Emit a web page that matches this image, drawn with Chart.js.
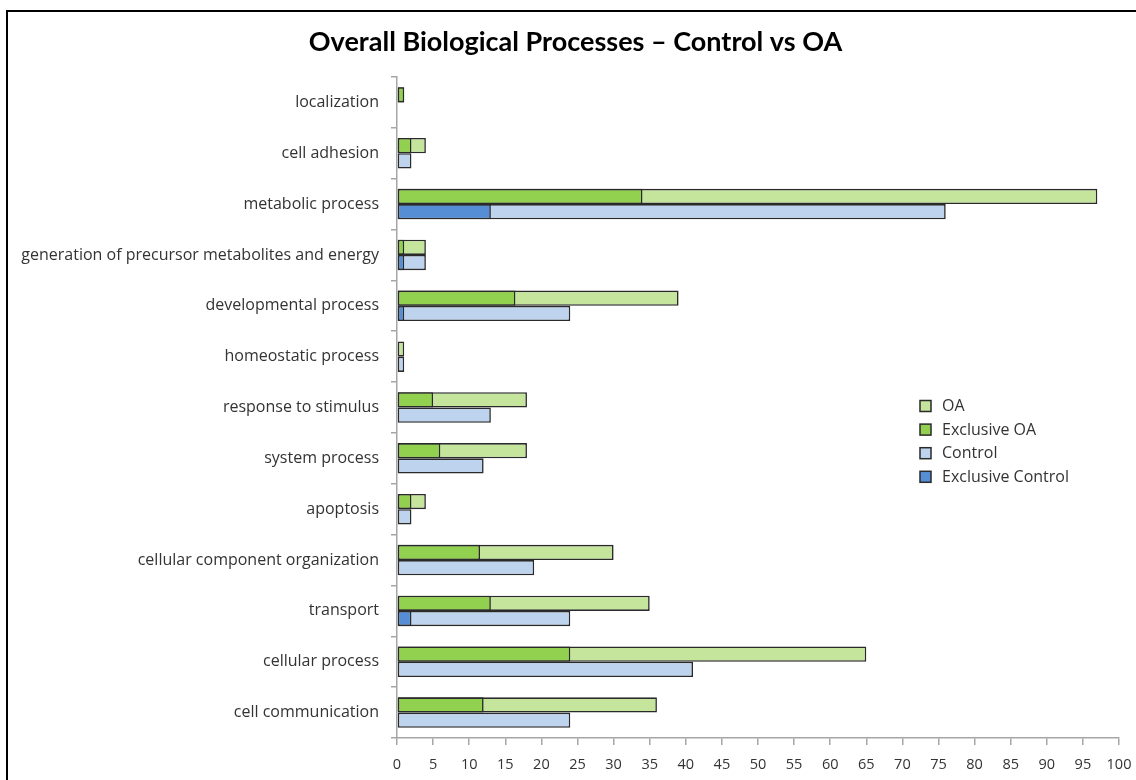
<!DOCTYPE html>
<html>
<head>
<meta charset="utf-8">
<script src="https://cdn.jsdelivr.net/npm/chart.js@4/dist/chart.umd.min.js"></script>
<style>
  html, body { margin: 0; padding: 0; background: #fff; }
  #wrap { position: relative; width: 1136px; height: 780px; overflow: hidden; }
  #frame { position: absolute; left: 6px; top: 10px; width: 1200px; height: 800px;
           border-left: 2px solid #000; border-top: 2px solid #000; }
  canvas { position: absolute; left: 0; top: 0; }
</style>
</head>
<body>
<div id="wrap">
  <div id="frame"></div>
  <canvas id="c" width="1136" height="780"></canvas>
</div>
<script>
const categories = [
  "localization",
  "cell adhesion",
  "metabolic process",
  "generation of precursor metabolites and energy",
  "developmental process",
  "homeostatic process",
  "response to stimulus",
  "system process",
  "apoptosis",
  "cellular component organization",
  "transport",
  "cellular process",
  "cell communication"
];
const oaValues               = [1, 4, 97, 4, 39, 1, 18, 18, 4, 30, 35, 65, 36];
const exclusiveOaValues      = [1, 2, 34, 1, 16.4, 0, 5, 6, 2, 11.5, 13, 24, 12];
const controlValues          = [0, 2, 76, 4, 24, 1, 13, 12, 2, 19, 24, 41, 24];
const exclusiveControlValues = [0, 0, 13, 1, 1, 0, 0, 0, 0, 0, 2, 0, 0];
const xTicks = [0,5,10,15,20,25,30,35,40,45,50,55,60,65,70,75,80,85,90,95,100];
const titleText = "Overall Biological Processes \u2013 Control vs OA";

const FONT = "'Open Sans', Lato, sans-serif";
const TITLE_FONT = "Lato, 'Open Sans', sans-serif";
const TEXT = "#333333";
const AXIS = "#a6a6a6";
const EDGE = "#2a2a2a";

const colors = {
  oa: "#c4e59b",
  exOa: "#92d050",
  ctrl: "#bdd3ee",
  exCtrl: "#558ed5"
};

const legendItems = [
  { label: "OA", color: colors.oa },
  { label: "Exclusive OA", color: colors.exOa },
  { label: "Control", color: colors.ctrl },
  { label: "Exclusive Control", color: colors.exCtrl }
];

const titlePlugin = {
  id: "customTitle",
  afterDraw(chart) {
    const ctx = chart.ctx;
    ctx.save();
    ctx.font = "bold 27px " + TITLE_FONT;
    ctx.fillStyle = "#000";
    ctx.textAlign = "center";
    ctx.textBaseline = "middle";
    ctx.fillText(titleText, 575.5, 42);
    ctx.restore();
  }
};

const legendPlugin = {
  id: "customLegend",
  afterDraw(chart) {
    const ctx = chart.ctx;
    ctx.save();
    ctx.font = "16px " + FONT;
    ctx.textBaseline = "middle";
    ctx.textAlign = "left";
    const x0 = 920, y0 = 406.5, step = 23.6;
    legendItems.forEach((it, i) => {
      const y = y0 + i * step;
      ctx.fillStyle = it.color;
      ctx.fillRect(x0, y - 6, 11, 11);
      ctx.lineWidth = 1.5;
      ctx.strokeStyle = EDGE;
      ctx.strokeRect(x0, y - 6, 11, 11);
      ctx.fillStyle = TEXT;
      ctx.fillText(it.label, x0 + 22, y);
    });
    ctx.restore();
  }
};

const common = {
  borderColor: EDGE,
  borderWidth: 1.6,
  borderSkipped: false,
  barPercentage: 1,
  categoryPercentage: 0.6
};

new Chart(document.getElementById("c"), {
  type: "bar",
  data: {
    labels: categories,
    datasets: [
      Object.assign({ label: "OA", data: oaValues, backgroundColor: colors.oa, stack: "oa", order: 1 }, common),
      Object.assign({ label: "Exclusive OA", data: exclusiveOaValues, backgroundColor: colors.exOa, stack: "oa", order: 0 }, common),
      Object.assign({ label: "Control", data: controlValues, backgroundColor: colors.ctrl, stack: "ctrl", order: 3 }, common),
      Object.assign({ label: "Exclusive Control", data: exclusiveControlValues, backgroundColor: colors.exCtrl, stack: "ctrl", order: 2 }, common)
    ]
  },
  options: {
    indexAxis: "y",
    responsive: false,
    animation: false,
    layout: { padding: { left: 0, right: 17, top: 77, bottom: 0 } },
    plugins: {
      legend: { display: false },
      tooltip: { enabled: false },
      title: { display: false }
    },
    scales: {
      y: {
        stacked: true,
        afterFit(scale) { scale.width = 397; scale.paddingTop = 0; scale.paddingBottom = 0; },
        grid: { display: true, drawOnChartArea: false, drawTicks: true, tickLength: 6, color: AXIS, lineWidth: 1.5, offset: true },
        border: { display: true, color: AXIS, width: 1.5 },
        ticks: { color: TEXT, font: { family: FONT, size: 16 }, padding: 12, autoSkip: false }
      },
      x: {
        stacked: false,
        min: 0,
        max: 100,
        afterFit(scale) { scale.height = 42; scale.paddingLeft = 0; scale.paddingRight = 0; },
        afterBuildTicks(scale) { scale.ticks = xTicks.map(v => ({ value: v })); },
        grid: { display: true, drawOnChartArea: false, drawTicks: true, tickLength: 7, color: AXIS, lineWidth: 1.5 },
        border: { display: true, color: AXIS, width: 1.5 },
        ticks: { color: TEXT, font: { family: FONT, size: 14.5 }, padding: 11, maxRotation: 0, autoSkip: false }
      }
    }
  },
  plugins: [titlePlugin, legendPlugin]
});
</script>
</body>
</html>
